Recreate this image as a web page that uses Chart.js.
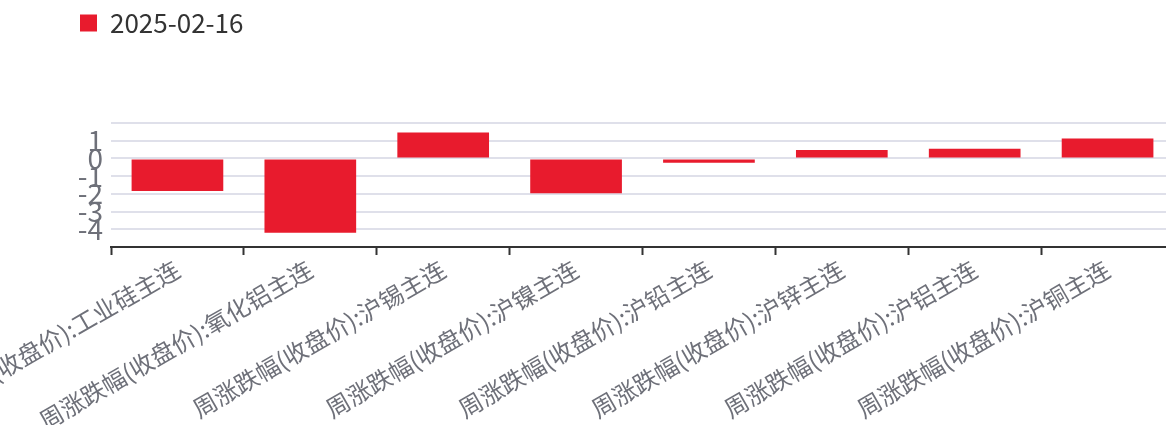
<!DOCTYPE html>
<html>
<head>
<meta charset="utf-8">
<script src="https://cdn.jsdelivr.net/npm/chart.js@4/dist/chart.umd.min.js"></script>
<style>
    html, body { margin: 0; padding: 0; background: #ffffff; overflow: hidden; }
    /* plot runs a few pixels past the right edge, as in the original */
    #wrap { width: 1174px; height: 425px; position: relative; }
</style>
</head>
<body>
<div id="wrap"><canvas id="chart"></canvas></div>
<script>
// Weekly change (close price) of metal futures main contracts

var categories = [
    '周涨跌幅(收盘价):工业硅主连',
    '周涨跌幅(收盘价):氧化铝主连',
    '周涨跌幅(收盘价):沪锡主连',
    '周涨跌幅(收盘价):沪镍主连',
    '周涨跌幅(收盘价):沪铅主连',
    '周涨跌幅(收盘价):沪锌主连',
    '周涨跌幅(收盘价):沪铝主连',
    '周涨跌幅(收盘价):沪铜主连'
];
var seriesName = '2025-02-16';
var values = [-1.84, -4.2, 1.47, -1.97, -0.25, 0.47, 0.55, 1.13];
var yMin = -5;
var yMax = 2;
var yHidden = [-5, 2];

var fontFamily = '"Noto Sans CJK SC", "Noto Sans", sans-serif';

// Keep the legend pinned to the top of the canvas, away from the plot
var legendTopPlugin = {
    id: 'legendTop',
    afterLayout: function (chart) {
        var lg = chart.legend;
        if (!lg) return;
        var h = lg.height;
        lg.top = 0;
        lg.bottom = h;
    }
};

var canvas = document.getElementById('chart');

new Chart(canvas.getContext('2d'), {
    type: 'bar',
    data: {
        labels: categories,
        datasets: [{
            label: seriesName,
            data: values,
            backgroundColor: '#e81b2d',
            borderWidth: 0,
            barPercentage: 0.69,
            categoryPercentage: 1.0
        }]
    },
    plugins: [legendTopPlugin],
    options: {
        responsive: true,
        maintainAspectRatio: false,
        animation: false,
        layout: { padding: { left: 70, right: 0, top: 0, bottom: 0 } },
        plugins: {
            legend: {
                position: 'top',
                align: 'start',
                labels: {
                    boxWidth: 17,
                    boxHeight: 17,
                    color: '#333333',
                    padding: 10,
                    font: { family: fontFamily, size: 26 }
                }
            },
            tooltip: { enabled: false }
        },
        scales: {
            x: {
                grid: {
                    offset: true,
                    drawOnChartArea: false,
                    drawTicks: true,
                    tickLength: 8,
                    tickWidth: 2,
                    color: '#333333'
                },
                border: { display: true, color: '#333333', width: 2 },
                ticks: {
                    autoSkip: false,
                    minRotation: 30,
                    maxRotation: 30,
                    padding: 0,
                    color: '#6e7079',
                    font: { family: fontFamily, size: 24 }
                },
                afterFit: function (scale) {
                    // let the first label run off the left edge, like the original
                    scale.paddingLeft = 0;
                    scale.paddingRight = 0;
                    scale.height = 178;
                }
            },
            y: {
                min: yMin,
                max: yMax,
                grid: {
                    color: '#dfe0ea',
                    lineWidth: 2,
                    drawTicks: false
                },
                border: { display: false },
                ticks: {
                    stepSize: 1,
                    autoSkip: false,
                    padding: 8,
                    color: '#6e7079',
                    font: { family: fontFamily, size: 28 },
                    callback: function (value) {
                        if (yHidden.indexOf(value) !== -1) return '';
                        return value;
                    }
                },
                afterFit: function (scale) {
                    scale.width = 41;
                    scale.paddingTop = 123;
                }
            }
        }
    }
});
</script>
</body>
</html>
